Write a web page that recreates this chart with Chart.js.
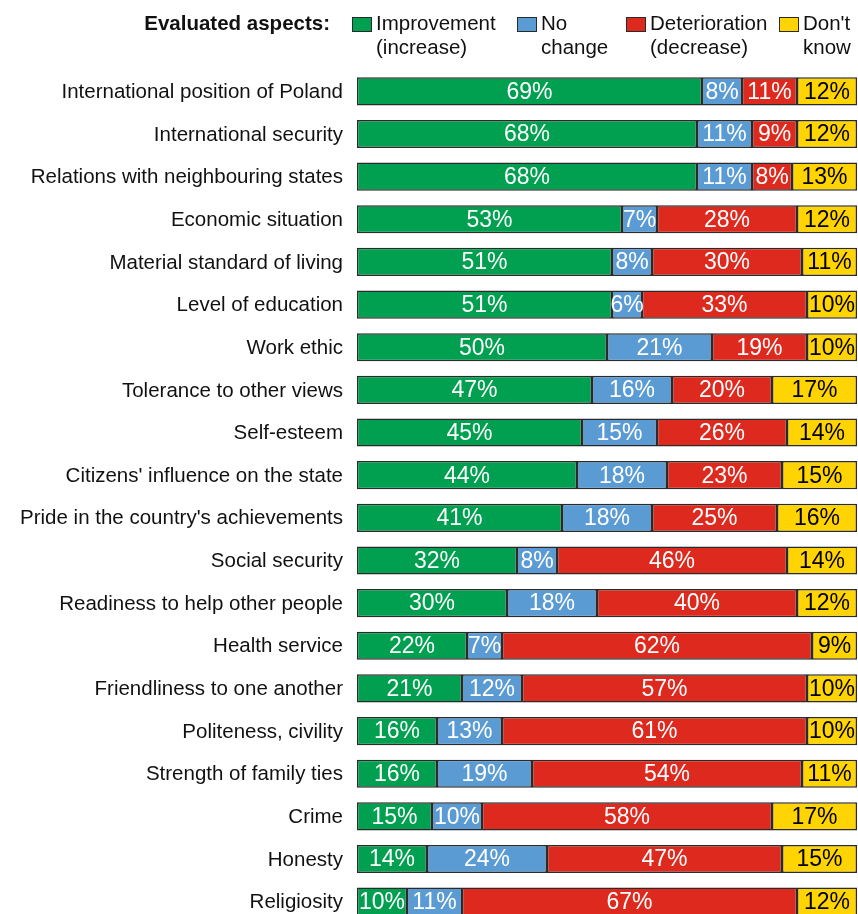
<!DOCTYPE html>
<html>
<head>
<meta charset="utf-8">
<script src="https://cdn.jsdelivr.net/npm/chart.js@4.4.0/dist/chart.umd.min.js"></script>
<style>
  html, body { margin: 0; padding: 0; background: #fff; overflow: hidden; }
  #wrap { position: relative; width: 858px; height: 923px; }
  #c { display: block; }
  #legend { position: absolute; left: 0; top: 0; width: 858px; height: 70px;
            font-family: "Liberation Sans", Arial, sans-serif; font-size: 20.5px; color: #111; }
  .lg-title { position: absolute; right: 528px; top: 11px; font-weight: bold; }
  .lg-box { position: absolute; top: 17px; width: 18px; height: 13px; border: 1.5px solid #2a2a2a; }
  .lg-text { position: absolute; top: 11px; line-height: 24px; }
</style>
</head>
<body>
<div id="wrap">
  <canvas id="c" width="858" height="923"></canvas>
  <div id="legend"></div>
</div>
<script>
// ============ 数据 ============
const categories = [
  'International position of Poland',
  'International security',
  'Relations with neighbouring states',
  'Economic situation',
  'Material standard of living',
  'Level of education',
  'Work ethic',
  'Tolerance to other views',
  'Self-esteem',
  "Citizens' influence on the state",
  "Pride in the country's achievements",
  'Social security',
  'Readiness to help other people',
  'Health service',
  'Friendliness to one another',
  'Politeness, civility',
  'Strength of family ties',
  'Crime',
  'Honesty',
  'Religiosity'
];
const improvement   = [69, 68, 68, 53, 51, 51, 50, 47, 45, 44, 41, 32, 30, 22, 21, 16, 16, 15, 14, 10];
const noChange      = [ 8, 11, 11,  7,  8,  6, 21, 16, 15, 18, 18,  8, 18,  7, 12, 13, 19, 10, 24, 11];
const deterioration = [11,  9,  8, 28, 30, 33, 19, 20, 26, 23, 25, 46, 40, 62, 57, 61, 54, 58, 47, 67];
const dontKnow      = [12, 12, 13, 12, 11, 10, 10, 17, 14, 15, 16, 14, 12,  9, 10, 10, 11, 17, 15, 12];

const seriesNames = [['Improvement', '(increase)'], ['No', 'change'], ['Deterioration', '(decrease)'], ["Don't", 'know']];
const COLORS = ['#00a050', '#5b9bd3', '#de2a1e', '#ffd400'];
const LABEL_COLORS = ['#fff', '#fff', '#fff', '#000'];
const FONT = '"Liberation Sans", Arial, sans-serif';

// ============ 图例（HTML）============
const legendPos = [352, 517, 626, 779];
const legend = document.getElementById('legend');
legend.innerHTML = '<div class="lg-title">Evaluated aspects:</div>' +
  seriesNames.map((n, i) =>
    `<div class="lg-box" style="left:${legendPos[i]}px;background:${COLORS[i]}"></div>` +
    `<div class="lg-text" style="left:${legendPos[i] + 24}px">${n[0]}<br>${n[1]}</div>`
  ).join('');

// ============ 数值标签 ============
const valueLabels = {
  id: 'valueLabels',
  afterDatasetsDraw(chart) {
    const ctx = chart.ctx;
    ctx.save();
    ctx.font = '23px ' + FONT;
    ctx.textAlign = 'center';
    ctx.textBaseline = 'middle';
    chart.data.datasets.forEach((ds, di) => {
      const meta = chart.getDatasetMeta(di);
      ctx.fillStyle = LABEL_COLORS[di];
      meta.data.forEach((bar, i) => {
        const cx = (bar.x + bar.base) / 2;
        ctx.fillText(ds.data[i] + '%', cx, bar.y + 1);
      });
    });
    ctx.restore();
  }
};

const series = [improvement, noChange, deterioration, dontKnow];
new Chart(document.getElementById('c'), {
  type: 'bar',
  data: {
    labels: categories,
    datasets: series.map((d, i) => ({
      label: seriesNames[i].join(' '),
      data: d,
      backgroundColor: COLORS[i],
      borderColor: '#2a2a2a',
      borderWidth: 1.5,
      borderSkipped: false,
      barPercentage: 0.66,
      categoryPercentage: 1
    }))
  },
  options: {
    indexAxis: 'y',
    responsive: false,
    animation: false,
    layout: {padding: {top: 70, right: 1, bottom: 0, left: 0}},
    scales: {
      x: {stacked: true, min: 0, max: 100, display: false},
      y: {
        stacked: true,
        grid: {display: false},
        border: {display: false},
        ticks: {color: '#111', font: {family: FONT, size: 20.5}, padding: 6, labelOffset: 1},
        afterFit: s => { s.width = 357; s.paddingTop = 0; s.paddingBottom = 0; }
      }
    },
    plugins: {
      legend: {display: false},
      tooltip: {enabled: false}
    }
  },
  plugins: [valueLabels]
});
</script>
</body>
</html>
